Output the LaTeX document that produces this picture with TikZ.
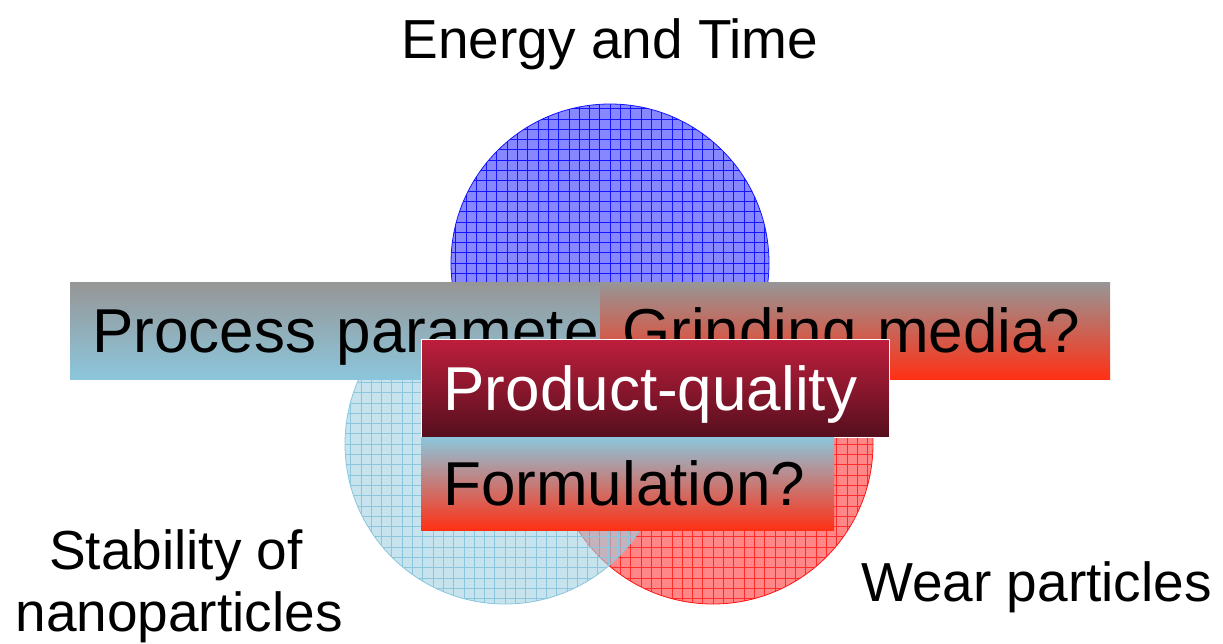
\documentclass[tikz,border=0pt]{standalone}
\usepackage{fontspec}
\setmainfont{Liberation Sans}
\definecolor{cblue}{RGB}{20,20,255}
\definecolor{cbluefill}{RGB}{135,135,255}
\definecolor{lblue}{RGB}{140,198,220}
\definecolor{lbluefill}{RGB}{160,208,226}
\definecolor{cred}{RGB}{255,20,20}
\definecolor{credfill}{RGB}{255,135,135}
\definecolor{gtop}{RGB}{150,150,150}
\definecolor{orred}{RGB}{255,48,20}
\definecolor{pqtop}{RGB}{190,30,60}
\definecolor{pqbot}{RGB}{85,15,30}
\begin{document}
\begin{tikzpicture}[x=1pt,y=-1pt,
  venn/.style={circle, inner sep=0pt, minimum size=#1, line width=0.8pt},
  gridfill/.style={path picture={\draw[step=10.3pt, #1, line width=0.6pt]
      (path picture bounding box.south west) grid (path picture bounding box.north east);}},
  bigtxt/.style={font=\fontsize{62}{74}\selectfont, inner ysep=0pt, inner xsep=22pt,
      text height=44.4pt, text depth=0pt, align=left, anchor=north west},
  lbl/.style={font=\fontsize{55}{62}\selectfont, inner sep=0pt, anchor=base}
]
\useasboundingbox (0,0) rectangle (1223,643);
% circles
\node[venn=318pt, draw=cblue, fill=cbluefill, gridfill=cblue] (ctop) at (610,263) {};
\node[venn=320pt, draw=cred, fill=credfill, gridfill=cred!90] (cright) at (713,444) {};
\node[venn=320pt, draw=lblue, fill=lbluefill, fill opacity=0.6, gridfill=lblue] (cleft) at (505,444) {};
% boxes
\node[bigtxt, minimum width=610pt, minimum height=97pt, text width=566pt,
      top color=gtop, bottom color=lblue] (proc) at (70,282) {Process parameters};
\node[bigtxt, minimum width=510pt, minimum height=97pt, text width=466pt,
      top color=gtop, middle color=orred!55!gtop, bottom color=orred] (grind) at (600,282) {Grinding media?};
\node[bigtxt, minimum width=468pt, minimum height=98pt, text width=424pt,
      top color=pqtop, bottom color=pqbot, draw=white, line width=1.2pt, text=white] (prod) at (421,339) {Product-quality};
\node[bigtxt, minimum width=413pt, minimum height=93pt, text width=369pt,
      top color=lblue, middle color=orred!45!lblue, bottom color=orred] (form) at (421,437) {Formulation?};
% labels
\node[lbl] (energy) at (610,58) {Energy and Time};
\node[lbl] (stab1) at (176,569) {Stability of};
\node[lbl] (stab2) at (179,631) {nanoparticles};
\node[lbl, anchor=base west] (wear) at (861,601) {Wear particles};
\end{tikzpicture}
\end{document}
